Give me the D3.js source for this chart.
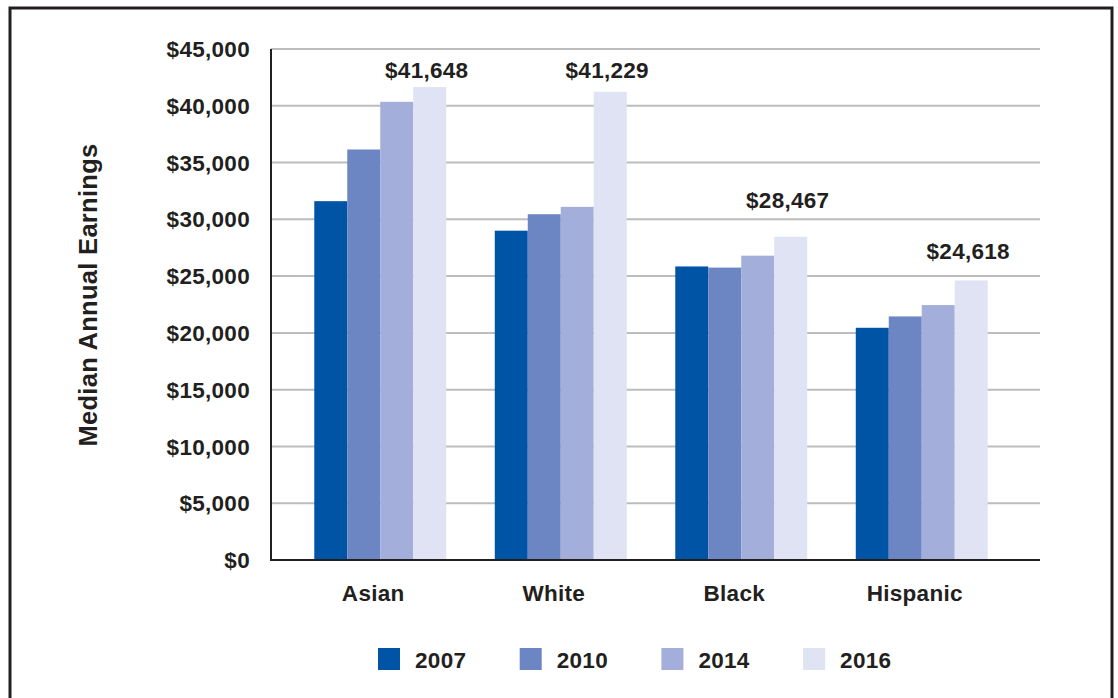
<!DOCTYPE html>
<html><head><meta charset="utf-8">
<script src="https://cdn.jsdelivr.net/npm/d3@7"></script>
<style>
html,body{margin:0;padding:0;background:#fff;}
text{font-family:"Liberation Sans",Arial,Helvetica,sans-serif;font-weight:bold;fill:#231f20;}
</style></head>
<body>
<svg id="chart" width="1118" height="698"></svg>
<script>
const categories = ["Asian", "White", "Black", "Hispanic"];
const years = ["2007", "2010", "2014", "2016"];
const values2007 = [31600, 29000, 25850, 20450];
const values2010 = [36150, 30450, 25750, 21450];
const values2014 = [40350, 31100, 26800, 22450];
const values2016 = [41648, 41229, 28467, 24618];
const labelTexts = ["$41,648", "$41,229", "$28,467", "$24,618"];
const yTicks = [0, 5000, 10000, 15000, 20000, 25000, 30000, 35000, 40000, 45000];
const colors = ["#0054a6", "#6c86c3", "#a3afda", "#e0e3f3"];
const labelLift = [9, 14, 29, 21];

const series = [values2007, values2010, values2014, values2016];

const svg = d3.select("#chart");
const pLeft = 271, pRight = 1040, pTop = 49, pBottom = 560;
const FS = 22.5;

// frame
svg.append("rect").attr("x", 10).attr("y", 8).attr("width", 1102).attr("height", 720)
  .attr("fill", "none").attr("stroke", "#231f20").attr("stroke-width", 3);

const y = d3.scaleLinear().domain([0, 45000]).range([pBottom, pTop]);
const x0 = d3.scaleBand().domain(categories).range([290, 1012]).paddingInner(0.269).paddingOuter(0.1345);
const x1 = d3.scaleBand().domain(years).range([0, x0.bandwidth()]);

// grid
svg.append("g").selectAll("line").data(yTicks.filter(d => d > 0)).join("line")
  .attr("x1", pLeft).attr("x2", pRight).attr("y1", d => y(d)).attr("y2", d => y(d))
  .attr("stroke", "#bdbdbd").attr("stroke-width", 2);

// y axis labels
const fmt = d => "$" + d3.format(",")(d);
svg.append("g").selectAll("text").data(yTicks).join("text")
  .attr("x", 250).attr("y", d => y(d)).attr("dy", "0.36em")
  .attr("text-anchor", "end").attr("font-size", FS).attr("letter-spacing", 0.3)
  .text(fmt);

// bars
const groups = svg.append("g").selectAll("g").data(categories).join("g")
  .attr("transform", c => `translate(${x0(c)},0)`);
groups.selectAll("rect").data((c, i) => years.map((yr, j) => ({yr, v: series[j][i], j})))
  .join("rect")
  .attr("x", d => x1(d.yr)).attr("width", x1.bandwidth())
  .attr("y", d => y(d.v)).attr("height", d => pBottom - y(d.v))
  .attr("fill", d => colors[d.j]);

// value labels
svg.append("g").selectAll("text").data(categories).join("text")
  .attr("x", (c, i) => x0(c) + x1("2016") + x1.bandwidth() / 2 - 3)
  .attr("y", (c, i) => y(values2016[i]) - labelLift[i])
  .attr("text-anchor", "middle").attr("font-size", FS).attr("letter-spacing", 0.3)
  .text((c, i) => labelTexts[i]);

// axes lines
svg.append("line").attr("x1", pLeft).attr("x2", pLeft).attr("y1", pTop).attr("y2", pBottom + 1)
  .attr("stroke", "#231f20").attr("stroke-width", 2);
svg.append("line").attr("x1", pLeft - 1).attr("x2", pRight).attr("y1", pBottom).attr("y2", pBottom)
  .attr("stroke", "#231f20").attr("stroke-width", 2);

// category labels
svg.append("g").selectAll("text").data(categories).join("text")
  .attr("x", c => x0(c) + x0.bandwidth() / 2 - 7).attr("y", 601)
  .attr("text-anchor", "middle").attr("font-size", FS).attr("letter-spacing", 0.3)
  .text(c => c);

// y title
svg.append("text").attr("transform", "translate(97,295) rotate(-90)")
  .attr("text-anchor", "middle").attr("font-size", 25.5).attr("letter-spacing", 0.3)
  .text("Median Annual Earnings");

// legend
const lg = svg.append("g").selectAll("g").data(years).join("g")
  .attr("transform", (d, i) => `translate(${378 + i * 141.7},648)`);
lg.append("rect").attr("width", 22).attr("height", 22).attr("fill", (d, i) => colors[i]);
lg.append("text").attr("x", 37).attr("y", 19.5).attr("font-size", FS).attr("letter-spacing", 0.3).text(d => d);
</script>
</body></html>
